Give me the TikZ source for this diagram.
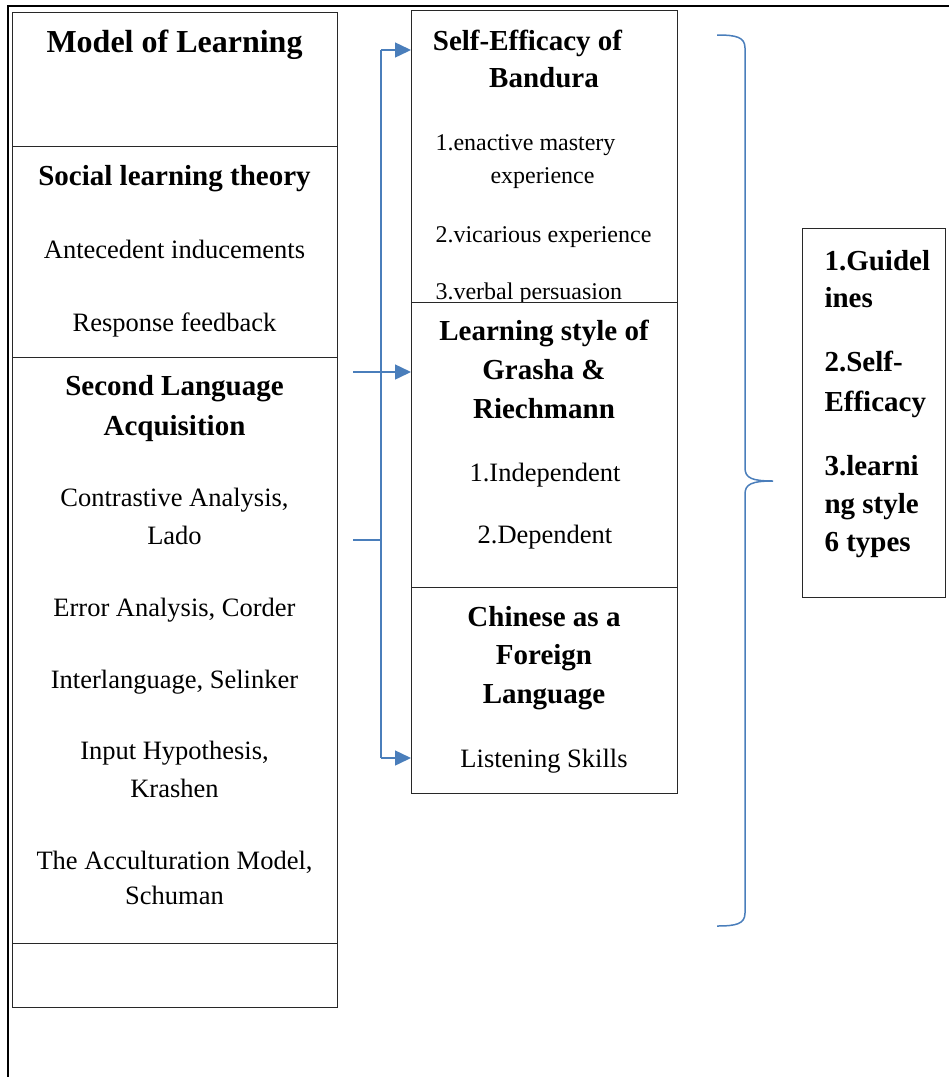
\documentclass[tikz,border=0pt]{standalone}
\usepackage{fontspec}
\setmainfont{Liberation Serif}
\usetikzlibrary{arrows.meta, positioning, calc}
\definecolor{LinkBlue}{RGB}{74, 126, 187}
\definecolor{BoxGray}{RGB}{40, 40, 40}

\tikzset{
  panel/.style={draw=BoxGray, line width=0.8pt, fill=white, inner sep=0pt, outer sep=0pt, anchor=north west},
  headtxt/.style={font=\bfseries\fontsize{29}{39}\selectfont, align=center, anchor=base},
  itemtxt/.style={font=\fontsize{26.5}{38}\selectfont, align=center, anchor=base},
  smalltxt/.style={font=\fontsize{24}{33}\selectfont, anchor=base west},
  sidetxt/.style={font=\bfseries\fontsize{29}{38}\selectfont, align=left, anchor=base west},
  link/.style={draw=LinkBlue, line width=1.5pt},
  arrowlink/.style={link, -{Triangle[length=16pt,width=15pt]}}
}

\begin{document}
\begin{tikzpicture}[x=1pt, y=-1pt]
  \useasboundingbox (0,0) rectangle (949,1077);
  \draw[line width=2pt] (8,1077) -- (8,6) -- (949,6);

  % left column
  \node[panel, minimum width=325pt, minimum height=134pt] (model) at (12,12) {};
  \node[panel, minimum width=325pt, minimum height=211pt] (social) at (12,146) {};
  \node[panel, minimum width=325pt, minimum height=586pt] (sla) at (12,357) {};
  \node[panel, minimum width=325pt, minimum height=64pt] (blank) at (12,943) {};

  \node[headtxt, font=\bfseries\fontsize{32}{39}\selectfont] (modeltitle) at (174.5,52) {Model of Learning};
  \node[headtxt] (socialtitle) at (174.5,185) {Social learning theory};
  \node[itemtxt] (antecedent) at (174.5,258) {Antecedent inducements};
  \node[itemtxt] (response) at (174.5,331) {Response feedback};
  \node[headtxt, font=\bfseries\fontsize{29}{40}\selectfont] (slatitle) at (174.5,435) {Second Language\\Acquisition};
  \node[itemtxt] (lado) at (174.5,544) {Contrastive Analysis,\\Lado};
  \node[itemtxt] (corder) at (174.5,616) {Error Analysis, Corder};
  \node[itemtxt] (selinker) at (174.5,688) {Interlanguage, Selinker};
  \node[itemtxt] (krashen) at (174.5,797) {Input Hypothesis,\\Krashen};
  \node[itemtxt, font=\fontsize{26.5}{35}\selectfont] (schuman) at (174.5,904) {The Acculturation Model,\\Schuman};

  % middle column
  \node[panel, minimum width=266pt, minimum height=292pt] (bandura) at (411,10) {};
  \node[headtxt, font=\bfseries\fontsize{29}{37}\selectfont] (banduratitle) at (544,87) {Self-Efficacy of\rule{33pt}{0pt}\\Bandura};
  \node[smalltxt] (enactive) at (432,150) {1.enactive mastery};
  \node[smalltxt] (enactiveb) at (487,183) {experience};
  \node[smalltxt] (vicarious) at (432,242) {2.vicarious experience};
  \node[smalltxt] (verbal) at (432,299) {3.verbal persuasion};

  \node[panel, minimum width=266pt, minimum height=285pt] (grasha) at (411,302) {};
  \node[headtxt] (grashatitle) at (544,418) {Learning style of\\Grasha \&\\Riechmann};
  \node[itemtxt] (independent) at (545,481) {1.Independent};
  \node[itemtxt] (dependent) at (545,543) {2.Dependent};

  \node[panel, minimum width=266pt, minimum height=206pt] (chinese) at (411,587) {};
  \node[headtxt, font=\bfseries\fontsize{29}{38.5}\selectfont] (chinesetitle) at (544,703) {Chinese as a\\Foreign\\Language};
  \node[itemtxt] (listening) at (544,767) {Listening Skills};

  % links
  \coordinate (trunktop) at (381,50);
  \coordinate (trunkbot) at (381,758);
  \coordinate (stubA) at (353,372);
  \coordinate (stubB) at (353,540);
  \draw[link] (trunktop) -- (trunkbot);
  \draw[link] (stubB) -- (stubB -| trunktop);
  \draw[arrowlink] (trunktop) -- (trunktop -| bandura.west);
  \draw[arrowlink] (stubA) -- (stubA -| grasha.west);
  \draw[arrowlink] (trunkbot) -- (trunkbot -| chinese.west);

  % brace
  \draw[link] (717,35) .. controls (736,35) and (745,37) .. (745,48) -- (745,468)
    .. controls (745,478) and (752,481) .. (773,481)
    .. controls (752,481) and (745,484) .. (745,494) -- (745,913)
    .. controls (745,924) and (736,926) .. (717,926);

  % right box
  \node[panel, minimum width=143pt, minimum height=369pt] (guide) at (802,228) {};
  \node[sidetxt, font=\bfseries\fontsize{29}{37}\selectfont] (guidelines) at (821,307) {1.Guidel\\ines};
  \node[sidetxt, font=\bfseries\fontsize{29}{40}\selectfont] (efficacy) at (821,411) {2.Self-\\Efficacy};
  \node[sidetxt] (styles) at (821,551) {3.learni\\ng style\\6 types};
\end{tikzpicture}
\end{document}
